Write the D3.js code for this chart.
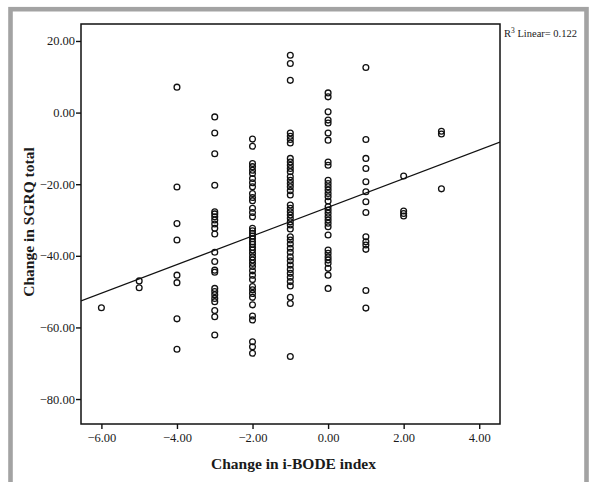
<!DOCTYPE html>
<html>
<head>
<meta charset="utf-8">
<script src="https://cdn.jsdelivr.net/npm/d3@7"></script>
<style>
  html, body { margin: 0; padding: 0; background: #fff; }
  svg { display: block; }
  text { font-family: "Liberation Serif", "Times New Roman", serif; fill: #1a1a1a; }
</style>
</head>
<body>
<svg id="chart" width="589" height="482"></svg>
<script>
// Change in i-BODE index (x) for each group of patients
const bodeLevels = [-6, -5, -4, -3, -2, -1, 0, 1, 2, 3];

// Change in SGRQ total (y) for the patients at each i-BODE level
const sgrqAtMinus6 = [-54.5];
const sgrqAtMinus5 = [-47.0, -48.9];
const sgrqAtMinus4 = [7.1, -20.8, -31.0, -35.6, -45.4, -47.5, -57.6, -66.1];
const sgrqAtMinus3 = [-1.2, -5.7, -11.5, -20.3, -27.7, -28.3, -29.1, -30.0, -31.1, -32.3,
  -33.9, -39.0, -41.6, -44.0, -44.6, -49.1, -50.0, -50.9, -51.9, -52.8, -55.3, -57.0, -62.1];
const sgrqAtMinus2 = [-7.4, -9.4, -14.2, -15.1, -16.1, -17.0, -18.4, -19.6, -20.7, -22.6,
  -23.7, -24.6, -26.7, -27.9, -29.1, -32.3, -33.0, -33.7, -34.5, -35.2, -36.1, -36.8,
  -37.6, -38.4, -39.3, -40.3, -41.2, -42.1, -43.0, -44.2, -45.4, -46.6, -48.6, -49.5,
  -50.5, -51.6, -53.7, -56.8, -57.9, -64.0, -65.4, -67.2];
const sgrqAtMinus1 = [16.0, 13.7, 9.0, -5.7, -6.6, -7.5, -8.5, -12.8, -13.8, -14.7, -15.6,
  -16.5, -17.9, -18.9, -19.8, -20.7, -21.8, -23.0, -25.8, -26.7, -27.7, -28.6, -29.5,
  -30.5, -31.4, -32.5, -34.7, -35.6, -36.7, -37.9, -39.0, -40.3, -41.4, -42.6, -43.8,
  -44.9, -46.0, -47.2, -48.4, -51.6, -53.3, -68.1];
const sgrqAtZero = [5.5, 4.4, 0.2, -2.1, -2.9, -5.7, -7.7, -13.8, -14.7, -18.9, -19.8,
  -20.7, -21.6, -22.6, -23.5, -24.7, -26.3, -27.2, -28.1, -29.1, -30.0, -30.9, -31.9,
  -34.2, -38.4, -39.3, -40.3, -41.2, -42.1, -43.5, -45.4, -49.1];
const sgrqAtPlus1 = [12.6, -7.5, -12.8, -15.6, -19.3, -22.1, -24.9, -27.9, -34.7, -36.1,
  -37.0, -38.2, -49.7, -54.6];
const sgrqAtPlus2 = [-17.7, -27.5, -28.2, -28.9];
const sgrqAtPlus3 = [-5.2, -6.0, -21.3];

const sgrqByLevel = [sgrqAtMinus6, sgrqAtMinus5, sgrqAtMinus4, sgrqAtMinus3, sgrqAtMinus2,
  sgrqAtMinus1, sgrqAtZero, sgrqAtPlus1, sgrqAtPlus2, sgrqAtPlus3];

// Linear fit line and its fit statistic
const fitIntercept = -26.45;
const fitSlope = 4.0;
const fitR2 = "0.122";

// Axis ticks
const xTickValues = [-6, -4, -2, 0, 2, 4];
const yTickValues = [-80, -60, -40, -20, 0, 20];

const points = [];
bodeLevels.forEach((b, i) => sgrqByLevel[i].forEach(v => points.push({ x: b, y: v })));

const svg = d3.select("#chart");

// grey outer frame
svg.append("rect")
  .attr("x", 10.5).attr("y", 9.2)
  .attr("width", 576).attr("height", 500)
  .attr("fill", "none")
  .attr("stroke", "#a3a3a3")
  .attr("stroke-width", 4.6);

const plot = { left: 81, top: 24, right: 500, bottom: 424 };

const x = d3.scaleLinear().domain([-6.54, 4.55]).range([plot.left, plot.right]);
const y = d3.scaleLinear().domain([-86.97, 24.74]).range([plot.bottom, plot.top]);

const fmt = d3.format(".2f");

// axes
const xAxis = svg.append("g")
  .attr("transform", `translate(0,${plot.bottom})`)
  .call(d3.axisBottom(x).tickValues(xTickValues).tickFormat(fmt).tickSize(5).tickSizeOuter(0));
const yAxis = svg.append("g")
  .attr("transform", `translate(${plot.left},0)`)
  .call(d3.axisLeft(y).tickValues(yTickValues).tickFormat(fmt).tickSize(5).tickSizeOuter(0));

[xAxis, yAxis].forEach(g => {
  g.select(".domain").remove();
  g.selectAll(".tick line").attr("stroke", "#111").attr("stroke-width", 1.4);
  g.selectAll(".tick text")
    .attr("font-size", 12.5)
    .attr("fill", "#1a1a1a")
    .style("font-family", '"Liberation Serif", "Times New Roman", serif');
});
xAxis.selectAll(".tick text").attr("dy", "0.71em").attr("y", 9);
yAxis.selectAll(".tick text").attr("x", -6);

// clip for the fit line
svg.append("clipPath").attr("id", "plotClip")
  .append("rect")
  .attr("x", plot.left).attr("y", plot.top)
  .attr("width", plot.right - plot.left).attr("height", plot.bottom - plot.top);

// fit line
const xDom = x.domain();
svg.append("line")
  .attr("clip-path", "url(#plotClip)")
  .attr("x1", x(xDom[0])).attr("y1", y(fitIntercept + fitSlope * xDom[0]))
  .attr("x2", x(xDom[1])).attr("y2", y(fitIntercept + fitSlope * xDom[1]))
  .attr("stroke", "#111")
  .attr("stroke-width", 1.3);

// data points
svg.append("g")
  .selectAll("circle")
  .data(points)
  .join("circle")
  .attr("cx", d => x(d.x))
  .attr("cy", d => y(d.y))
  .attr("r", 2.9)
  .attr("fill", "none")
  .attr("stroke", "#111")
  .attr("stroke-width", 1.3);

// plot frame
svg.append("rect")
  .attr("x", plot.left).attr("y", plot.top)
  .attr("width", plot.right - plot.left).attr("height", plot.bottom - plot.top)
  .attr("fill", "none")
  .attr("stroke", "#111")
  .attr("stroke-width", 1.5);

// axis titles
svg.append("text")
  .attr("x", (plot.left + plot.right) / 2 + 3)
  .attr("y", 469)
  .attr("text-anchor", "middle")
  .attr("font-size", 15.5)
  .attr("font-weight", "bold")
  .text("Change in i-BODE index");

svg.append("text")
  .attr("transform", `translate(34,222) rotate(-90)`)
  .attr("text-anchor", "middle")
  .attr("font-size", 15.5)
  .attr("font-weight", "bold")
  .text("Change in SGRQ total");

// fit statistic label
const r2 = svg.append("text")
  .attr("x", 504)
  .attr("y", 37)
  .attr("font-size", 10.5);
r2.append("tspan").text("R");
r2.append("tspan").attr("dy", -4).attr("font-size", 7.5).text("3");
r2.append("tspan").attr("dy", 4).text(" Linear= " + fitR2);
</script>
</body>
</html>
